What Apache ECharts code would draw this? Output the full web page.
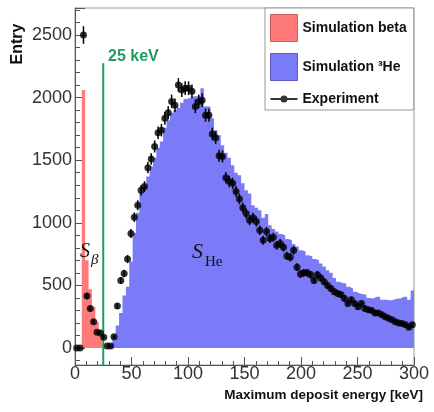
<!DOCTYPE html>
<html><head><meta charset="utf-8">
<script src="https://cdn.jsdelivr.net/npm/echarts@6/dist/echarts.min.js"></script>
<style>html,body{margin:0;padding:0;background:#fff}#c{width:434px;height:412px}</style>
</head><body><div id="c"></div>
<script>
// Bin centres (keV)
const energyKeV = [
  1.5,4.5,7.5,10.5,13.5,16.5,19.5,22.5,25.5,28.5,
  31.5,34.5,37.5,40.5,43.5,46.5,49.5,52.5,55.5,58.5,
  61.5,64.5,67.5,70.5,73.5,76.5,79.5,82.5,85.5,88.5,
  91.5,94.5,97.5,100.5,103.5,106.5,109.5,112.5,115.5,118.5,
  121.5,124.5,127.5,130.5,133.5,136.5,139.5,142.5,145.5,148.5,
  151.5,154.5,157.5,160.5,163.5,166.5,169.5,172.5,175.5,178.5,
  181.5,184.5,187.5,190.5,193.5,196.5,199.5,202.5,205.5,208.5,
  211.5,214.5,217.5,220.5,223.5,226.5,229.5,232.5,235.5,238.5,
  241.5,244.5,247.5,250.5,253.5,256.5,259.5,262.5,265.5,268.5,
  271.5,274.5,277.5,280.5,283.5,286.5,289.5,292.5,295.5,298.5
];
const simBeta = [
  0,0,2060,700,470,330,210,100,0,0,
  0,0,0,0,0,0,0,0,0,0,
  0,0,0,0,0,0,0,0,0,0,
  0,0,0,0,0,0,0,0,0,0,
  0,0,0,0,0,0,0,0,0,0,
  0,0,0,0,0,0,0,0,0,0,
  0,0,0,0,0,0,0,0,0,0,
  0,0,0,0,0,0,0,0,0,0,
  0,0,0,0,0,0,0,0,0,0,
  0,0,0,0,0,0,0,0,0,0
];
const simHe3 = [
  0,0,0,0,0,0,0,0,0,0,
  30,100,180,280,420,490,690,920,1080,1240,
  1300,1370,1450,1520,1600,1650,1760,1820,1880,1900,
  1920,1960,1990,2000,2010,2010,2010,2075,1930,1930,
  1835,1740,1700,1620,1560,1520,1460,1400,1380,1315,
  1260,1235,1140,1120,1100,1040,1070,980,950,930,
  910,900,870,860,830,810,780,770,740,730,
  710,700,675,650,620,600,560,530,520,515,
  490,475,450,435,430,425,400,395,410,410,
  385,385,380,385,395,395,410,410,385,460
];
const experiment = [
  0,0,2500,415,315,210,125,120,85,15,
  15,90,335,540,595,710,915,1045,1140,1260,
  1290,1440,1510,1610,1720,1740,1835,1880,1970,1940,
  2100,2060,2075,2075,2050,1930,1970,1980,1860,1860,
  1710,1680,1535,1530,1360,1330,1315,1250,1190,1120,
  1075,1020,1040,1010,940,860,930,875,885,820,
  835,805,735,725,780,645,590,600,600,585,
  540,585,560,530,500,475,450,435,425,395,
  355,385,355,330,355,315,305,300,280,280,
  265,250,237,225,210,200,195,185,165,185
];
const experimentErr = [
  5,5,70,25,20,18,14,14,12,6,
  6,12,22,28,30,32,36,38,40,42,
  42,45,46,48,50,50,52,52,54,54,
  56,55,55,55,55,54,54,54,52,52,
  50,50,48,48,45,45,45,44,42,42,
  40,40,40,40,38,36,38,36,36,35,
  35,35,33,33,34,31,30,30,30,30,
  28,30,29,28,28,27,26,26,26,25,
  23,24,23,22,23,22,21,21,20,20,
  20,19,19,18,18,18,17,17,16,17
];
const cutEnergy = 25;      // keV threshold line
const cutLineTop = 2275;   // top of threshold line (Entry)
const xRange = [0, 300];
const yRange = [-136, 2716];
const seriesNames = ['Simulation beta', 'Simulation \u00b3He', 'Experiment'];

const binWidth = energyKeV[1] - energyKeV[0];
function stepData(vals) {
  const d = energyKeV.map((c, i) => [c - binWidth / 2, vals[i]]);
  d.push([energyKeV[energyKeV.length - 1] + binWidth / 2, vals[vals.length - 1]]);
  return d;
}

const FONT = 'Liberation Sans, Arial, Helvetica, sans-serif';
const RED = '#ff7a7a', BLUE = '#7b7bf7', GREEN = '#1f9d5c';

const chart = echarts.init(document.getElementById('c'), null, {renderer: 'canvas'});
chart.setOption({
  animation: false,
  backgroundColor: '#fff',
  grid: {left: 75, right: 20, top: 8, bottom: 47, show: true, borderColor: '#9a9a9a', borderWidth: 1, backgroundColor: 'transparent'},
  xAxis: {
    type: 'value', min: xRange[0], max: xRange[1], interval: 50,
    axisLine: {show: true, onZero: false, lineStyle: {color: '#555', width: 1}},
    axisTick: {show: true, inside: true, length: 8, lineStyle: {color: '#555'}},
    minorTick: {show: true, splitNumber: 5, length: 4, lineStyle: {color: '#555'}},
    splitLine: {show: false},
    axisLabel: {fontSize: 18, color: '#333', fontFamily: FONT, margin: 0}
  },
  yAxis: {
    type: 'value', min: yRange[0], max: yRange[1],
    axisLine: {show: true, onZero: false, lineStyle: {color: '#555', width: 1}},
    axisTick: {show: true, inside: true, length: 10, lineStyle: {color: '#555'}},
    minorTick: {show: true, splitNumber: 5, length: 5, lineStyle: {color: '#555'}},
    splitLine: {show: false},
    axisLabel: {fontSize: 18, color: '#333', fontFamily: FONT, margin: 3,
      showMinLabel: false, showMaxLabel: false,
      formatter: v => (Math.abs(v % 500) < 1e-6 ? String(v) : '')}
  },
  legend: {
    orient: 'vertical', left: 265, top: 8,
    padding: [6, 7, 4, 5], itemWidth: 27, itemHeight: 27, itemGap: 11,
    backgroundColor: '#fff', borderColor: '#999', borderWidth: 1,
    textStyle: {fontSize: 14, fontWeight: 'bold', color: '#111', fontFamily: FONT},
    data: [
      {name: seriesNames[0], icon: 'rect', itemStyle: {color: RED, borderColor: '#c85a5a', borderWidth: 1}},
      {name: seriesNames[1], icon: 'rect', itemStyle: {color: BLUE, borderColor: '#5a5ac8', borderWidth: 1}},
      {name: seriesNames[2], icon: 'path://M0,2.6 L27,2.6 L27,4.4 L0,4.4 Z M17,3.5 A3.5,3.5 0 1 1 10,3.5 A3.5,3.5 0 1 1 17,3.5 Z', itemStyle: {color: '#000'}}
    ]
  },
  series: [
    {
      name: seriesNames[1], type: 'line', step: 'end', data: stepData(simHe3),
      symbol: 'none', lineStyle: {width: 0, opacity: 0},
      itemStyle: {color: BLUE}, areaStyle: {color: BLUE, opacity: 1}, z: 1
    },
    {
      name: seriesNames[0], type: 'line', step: 'end', data: stepData(simBeta),
      symbol: 'none', lineStyle: {width: 0, opacity: 0},
      itemStyle: {color: RED}, areaStyle: {color: RED, opacity: 1}, z: 2
    },
    {
      name: 'cut', type: 'line', data: [[cutEnergy, yRange[0]], [cutEnergy, cutLineTop]],
      symbol: 'none', lineStyle: {color: GREEN, width: 2}, z: 3, silent: true
    },
    {
      name: seriesNames[2] + ' err', type: 'custom',
      data: energyKeV.map((c, i) => [c, experiment[i], experimentErr[i]]),
      encode: {x: 0, y: 1},
      renderItem: function (params, api) {
        const x = api.value(0), v = api.value(1), e = api.value(2);
        const p1 = api.coord([x, v - e]), p2 = api.coord([x, v + e]);
        return {type: 'line', shape: {x1: p1[0], y1: p1[1], x2: p2[0], y2: p2[1]},
          style: {stroke: '#000', lineWidth: 1.5}};
      },
      z: 4, silent: true
    },
    {
      name: seriesNames[2], type: 'scatter',
      data: energyKeV.map((c, i) => [c, experiment[i]]),
      symbol: 'circle', symbolSize: 7, itemStyle: {color: '#000'}, z: 5
    }
  ]
});

chart.setOption({
  graphic: [
    {type: 'text', x: 108, y: 57, style: {text: '25 keV', font: 'bold 16px ' + FONT, fill: GREEN, align: 'left', verticalAlign: 'middle'}, z: 10},
    {type: 'text', x: 80, y: 252, style: {text: 'S', font: 'italic 20px Liberation Serif, serif', fill: '#111', align: 'left', verticalAlign: 'middle'}, z: 10},
    {type: 'text', x: 91, y: 260, style: {text: '\u03b2', font: 'italic 15px Liberation Serif, serif', fill: '#111', align: 'left', verticalAlign: 'middle'}, z: 10},
    {type: 'text', x: 192, y: 252, style: {text: 'S', font: 'italic 22px Liberation Serif, serif', fill: '#111', align: 'left', verticalAlign: 'middle'}, z: 10},
    {type: 'text', x: 205, y: 262, style: {text: 'He', font: '15px Liberation Serif, serif', fill: '#111', align: 'left', verticalAlign: 'middle'}, z: 10},
    {type: 'text', x: 423, y: 395, style: {text: 'Maximum deposit energy [keV]', font: 'bold 13.5px ' + FONT, fill: '#111', align: 'right', verticalAlign: 'middle'}, z: 10},
    {type: 'text', x: 18, y: 44, rotation: Math.PI / 2, style: {text: 'Entry', font: 'bold 16px ' + FONT, fill: '#111', align: 'center', verticalAlign: 'middle'}, z: 10}
  ]
});
</script>
</body></html>
